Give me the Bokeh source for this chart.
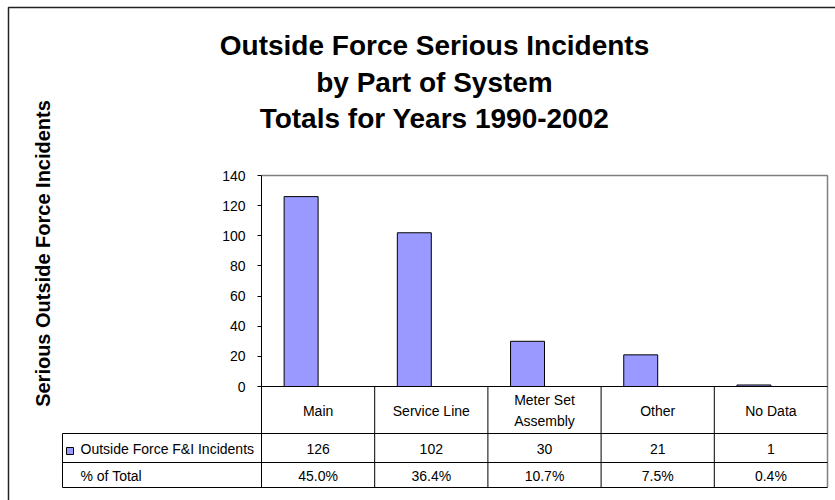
from math import pi
from bokeh.plotting import figure
from bokeh.models import Range1d, LinearAxis, FixedTicker
from bokeh.core.properties import value
from bokeh.embed import file_html
from bokeh.resources import INLINE

# ---- data ----
categories = ["Main", "Service Line", "Meter Set\nAssembly", "Other", "No Data"]
incidents = [126, 102, 30, 21, 1]
pct_total = ["45.0%", "36.4%", "10.7%", "7.5%", "0.4%"]
y_ticks = [0, 20, 40, 60, 80, 100, 120, 140]
series_name = "Outside Force F&I Incidents"
pct_name = "% of Total"
title_lines = ["Outside Force Serious Incidents", "by Part of System", "Totals for Years 1990-2002"]
y_title = "Serious Outside Force Incidents"

# ---- layout (pixels) ----
W, H = 835, 500
PL, PR = 261, 827      # plot area left/right
PT, PB = 175, 386      # plot area top/bottom (value 140 / 0)
YMAX = 140
n = len(categories)
cw = (PR - PL) / n

def X(px):
    return (px - PL) / cw

def Y(py):
    return (PB - py) * YMAX / (PB - PT)

FONT = value("Liberation Sans")

p = figure(width=W, height=H, x_range=Range1d(X(0), X(W)), y_range=Range1d(Y(H), Y(0)),
           x_axis_type=None, y_axis_type=None, output_backend="svg", toolbar_location=None,
           min_border=0, outline_line_color=None, background_fill_color="white",
           border_fill_color="white")

# outer chart border (top and left visible)
p.line([X(8), X(8), X(W + 5)], [Y(H + 5), Y(7), Y(7)], line_color="#222222", line_width=1.5)

# plot area border (top & right, gray)
p.line([X(PL), X(PR), X(PR)], [Y(PT), Y(PT), Y(487)], line_color="#808080", line_width=1.5)

# bars
xs = list(range(n))
p.vbar(x=[i + 0.35 for i in xs], top=incidents, bottom=0, width=0.3,
       fill_color="#9999FF", line_color="black", line_width=1)

# y axis
yaxis = LinearAxis(fixed_location=0, bounds=(0, YMAX), ticker=FixedTicker(ticks=y_ticks))
yaxis.axis_line_color = "black"
yaxis.major_tick_line_color = "black"
yaxis.major_tick_out = 4
yaxis.major_tick_in = 0
yaxis.minor_tick_out = 0
yaxis.minor_tick_in = 0
yaxis.major_label_standoff = 12
yaxis.major_label_text_font = "Liberation Sans"
yaxis.major_label_text_font_size = "14px"
yaxis.major_label_text_color = "black"
p.add_layout(yaxis, "left")

# data table grid
TL = 62
R0, R1, R2, R3 = 386, 433, 462, 487
x0 = [X(PL), X(TL), X(TL), X(TL), X(TL)]
x1 = [X(PR), X(PR), X(PR), X(PR), X(TL)]
y0 = [Y(R0), Y(R1), Y(R2), Y(R3), Y(R1)]
y1 = [Y(R0), Y(R1), Y(R2), Y(R3), Y(R3)]
for i in range(n):
    x0.append(i)
    x1.append(i)
    y0.append(Y(R0))
    y1.append(Y(R3))
p.segment(x0=x0, y0=y0, x1=x1, y1=y1, line_color="black", line_width=1)

# table texts
cx = [i + 0.5 for i in xs]
p.text(x=cx, y=[Y(410)] * n, text=categories, text_font=FONT, text_font_size="14px",
       text_align="center", text_baseline="middle", text_line_height=1.3, text_color="black")
p.text(x=cx, y=[Y(448)] * n, text=[str(v) for v in incidents], text_font=FONT,
       text_font_size="14px", text_align="center", text_baseline="middle", text_color="black")
p.text(x=cx, y=[Y(475)] * n, text=pct_total, text_font=FONT,
       text_font_size="14px", text_align="center", text_baseline="middle", text_color="black")
p.text(x=[X(80), X(80)], y=[Y(448), Y(475)], text=[series_name, pct_name], text_font=FONT,
       text_font_size="14px", text_align="left", text_baseline="middle", text_color="black")
p.rect(x=[X(69.5)], y=[Y(450.5)], width=7, height=7, width_units="screen", height_units="screen",
       fill_color="#9999FF", line_color="black", line_width=1)

# title
p.text(x=[X(434)] * 3, y=[Y(45), Y(82), Y(118)], text=title_lines, text_font=FONT,
       text_font_style="bold", text_font_size="28px", text_align="center",
       text_baseline="middle", text_color="black")

# y axis title
p.text(x=[X(42)], y=[Y(253)], text=[y_title], angle=pi / 2, text_font=FONT,
       text_font_style="bold", text_font_size="20px", text_align="center",
       text_baseline="middle", text_color="black")

open("out.html", "w").write(file_html(p, INLINE))
